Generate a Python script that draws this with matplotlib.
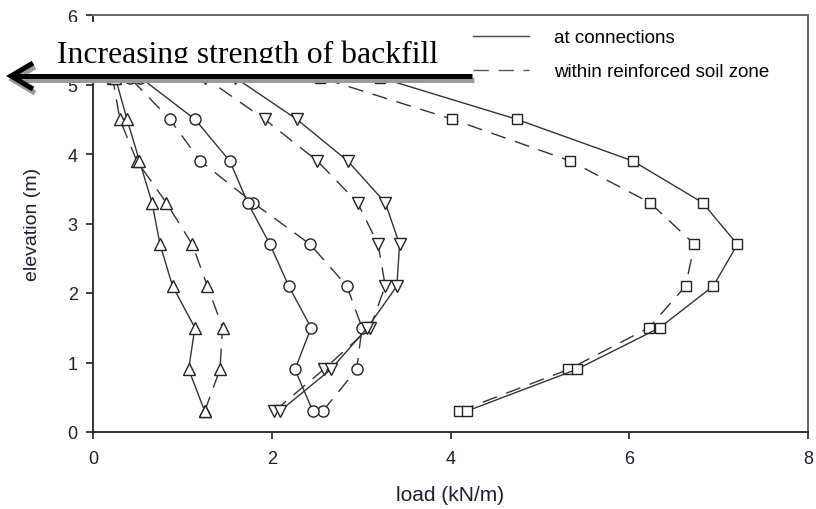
import matplotlib
matplotlib.use("Agg")
import matplotlib.pyplot as plt
from matplotlib.lines import Line2D
from matplotlib.patches import Rectangle

# elevation of the reinforcement layers (m)
elev = [0.3, 0.9, 1.5, 2.1, 2.7, 3.3, 3.9, 4.5, 5.1]

# loads (kN/m), four backfills, "at connections" / "within reinforced soil zone"
tri_up_conn = [1.25, 1.07, 1.14, 0.89, 0.75, 0.66, 0.52, 0.38, 0.25]
tri_up_zone = [1.25, 1.42, 1.45, 1.28, 1.11, 0.82, 0.49, 0.30, 0.22]
circ_conn = [2.46, 2.26, 2.44, 2.19, 1.98, 1.73, 1.53, 1.14, 0.53]
circ_zone = [2.57, 2.95, 3.01, 2.84, 2.43, 1.79, 1.20, 0.86, 0.41]
tri_dn_conn = [2.09, 2.66, 3.07, 3.40, 3.43, 3.27, 2.85, 2.28, 1.59]
tri_dn_zone = [2.03, 2.58, 3.10, 3.27, 3.19, 2.96, 2.51, 1.92, 1.25]
sq_conn = [4.18, 5.41, 6.34, 6.94, 7.21, 6.82, 6.04, 4.74, 3.21]
sq_zone = [4.10, 5.32, 6.22, 6.63, 6.73, 6.23, 5.34, 4.02, 2.54]

xticks = [0, 2, 4, 6, 8]
yticks = [0, 1, 2, 3, 4, 5, 6]
legend_labels = ["at connections", "within reinforced soil zone"]
note = "Increasing strength of backfill"

W, H = 816, 510
def px(x, y):
    return x / W, 1 - y / H

fig = plt.figure(figsize=(8.16, 5.10), dpi=100)
ax = fig.add_axes([93 / W, 1 - 433 / H, 715 / W, 417 / H])

line_c = "#333333"
dash = (11, 7)
series = [
    (tri_up_conn, tri_up_zone, "^", 8.5),
    (circ_conn, circ_zone, "o", 8),
    (tri_dn_conn, tri_dn_zone, "v", 8.5),
    (sq_conn, sq_zone, "s", 7.5),
]
for conn, zone, m, ms in series:
    ax.plot(zone, elev, color=line_c, lw=1.0, dashes=dash, marker=m, ms=ms,
            mfc="white", mec="#222222", mew=1.0)
    ax.plot(conn, elev, color=line_c, lw=1.0, marker=m, ms=ms,
            mfc="white", mec="#222222", mew=1.0)

ax.set_xlim(0, 8)
ax.set_ylim(0, 6)
ax.set_xticks(xticks)
ax.set_yticks(yticks)
tick_font = dict(family="Liberation Sans", size=13)
ax.set_xticklabels([str(t) for t in xticks], fontdict=tick_font, color="#1f1f2e")
ax.set_yticklabels([str(t) for t in yticks], fontdict=tick_font, color="#1f1f2e")
ax.tick_params(direction="out", length=5, width=1.2, color="#222222", pad=6)
ax.tick_params(axis="x", pad=8)

for s in ["left", "bottom"]:
    ax.spines[s].set_color("#222222")
    ax.spines[s].set_linewidth(1.3)
for s in ["top", "right"]:
    ax.spines[s].set_color("#666666")
    ax.spines[s].set_linewidth(1.4)

ax.set_xlabel("load (kN/m)", family="Liberation Sans", size=15, color="#1f1f2e")
ax.set_ylabel("elevation (m)", family="Liberation Sans", size=14, color="#1f1f2e")
ax.xaxis.set_label_coords(0.5, -0.127)
ax.yaxis.set_label_coords(-0.0727, 0.499)

handles = [Line2D([], [], color="#444444", lw=1.0),
           Line2D([], [], color="#555555", lw=1.0, dashes=dash)]
ax.legend(handles, legend_labels, loc="upper left", bbox_to_anchor=(0.5315, 0.966),
          frameon=False, borderpad=0, borderaxespad=0, handlelength=3.0,
          handletextpad=1.3, labelspacing=0.9,
          prop=dict(family="Liberation Sans", size=13.5))

# white box with the note and the arrow drawn over the top of the plot
x0, y0 = px(0, 75)
fig.add_artist(Rectangle((x0, y0), 471 / W, 52 / H, facecolor="white",
                         edgecolor="none", transform=fig.transFigure, zorder=5))
tx, ty = px(57, 63)
fig.text(tx, ty, note, family="Liberation Serif", size=22.8, color="black",
         ha="left", va="baseline", zorder=6)
x1, y1 = px(0, 75)
fig.add_artist(Rectangle((x1, y1), 471 / W, 11 / H, facecolor="white",
                         edgecolor="none", transform=fig.transFigure, zorder=7))

for dx, dy, col, z in [(2, 4, "#9a9a9a", 8), (0, 0, "black", 9)]:
    sx = [px(472 + dx, 0)[0], px(14 + dx, 0)[0]]
    sy = [px(0, 77 + dy)[1]] * 2
    fig.add_artist(Line2D(sx, sy, color=col, lw=3.6, solid_capstyle="butt",
                          transform=fig.transFigure, zorder=z))
    hx = [px(33 + dx, 0)[0], px(11 + dx, 0)[0], px(33 + dx, 0)[0]]
    hy = [px(0, 64 + dy)[1], px(0, 77 + dy)[1], px(0, 90 + dy)[1]]
    fig.add_artist(Line2D(hx, hy, color=col, lw=3.6, solid_joinstyle="miter",
                          solid_capstyle="butt", transform=fig.transFigure, zorder=z))

fig.savefig("out.png", dpi=100)
